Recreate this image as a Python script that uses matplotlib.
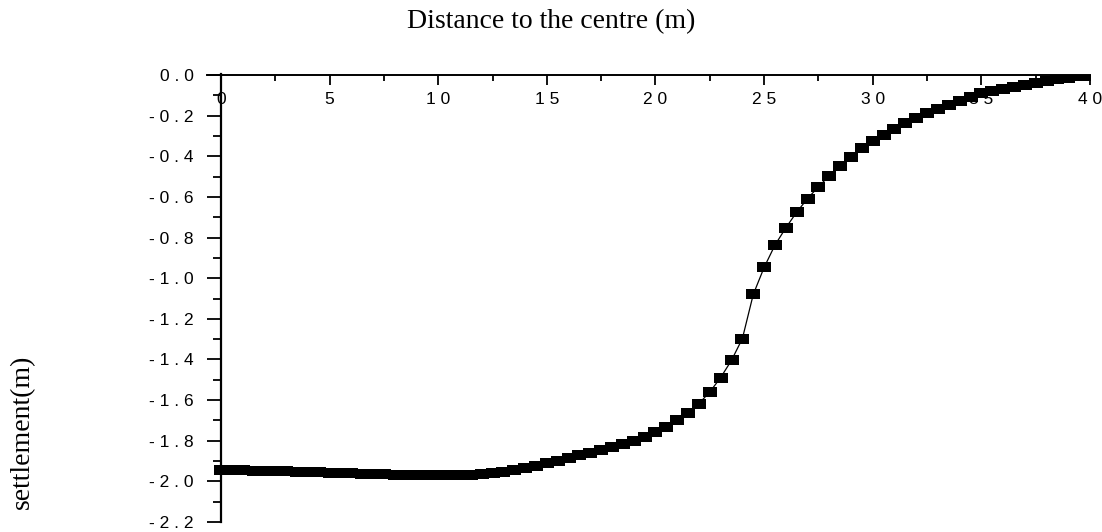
import matplotlib
matplotlib.use("Agg")
import matplotlib.pyplot as plt
from matplotlib.ticker import MultipleLocator

# ---- data ----
distance = [i * 0.5 for i in range(81)]
settlement = [
    -1.944, -1.945, -1.946, -1.947, -1.948, -1.950, -1.951, -1.953, -1.954, -1.956,
    -1.958, -1.959, -1.961, -1.963, -1.965, -1.966, -1.968, -1.969, -1.970, -1.971,
    -1.971, -1.970, -1.969, -1.967, -1.963, -1.958, -1.952, -1.945, -1.935, -1.922,
    -1.910, -1.899, -1.884, -1.872, -1.859, -1.844, -1.831, -1.817, -1.799, -1.783,
    -1.758, -1.732, -1.700, -1.662, -1.617, -1.560, -1.489, -1.404, -1.297, -1.080,
    -0.947, -0.837, -0.752, -0.675, -0.608, -0.550, -0.496, -0.447, -0.406, -0.361,
    -0.325, -0.296, -0.266, -0.238, -0.213, -0.189, -0.167, -0.148, -0.128, -0.107,
    -0.090, -0.078, -0.067, -0.057, -0.047, -0.038, -0.028, -0.020, -0.013, -0.007,
    -0.003,
]
x_ticks = [0, 5, 10, 15, 20, 25, 30, 35, 40]
y_ticks = [0.0, -0.2, -0.4, -0.6, -0.8, -1.0, -1.2, -1.4, -1.6, -1.8, -2.0, -2.2]
x_title = "Distance to the centre (m)"
y_title = "settlement(m)"


def spaced(s):
    return " ".join(list(s))


fig = plt.figure(figsize=(11.02, 5.32), dpi=100)
ax = fig.add_axes([207 / 1102, 10 / 532, (1090 - 207) / 1102, (522 - 75) / 532])

rect = [(-1, -0.69), (1, -0.69), (1, 0.69), (-1, 0.69), (-1, -0.69)]
ax.plot(distance, settlement, color="black", lw=0.9, marker=rect, ms=9.6,
        mfc="black", mec="black", mew=0)

ax.set_xlim(-0.644, 40)
ax.set_ylim(-2.2, 0.0)

for s in ("right", "bottom"):
    ax.spines[s].set_visible(False)
ax.spines["left"].set_position(("data", 0))
ax.spines["left"].set_linewidth(1.6)
ax.spines["top"].set_linewidth(1.4)
ax.spines["left"].set_bounds(-2.2, 0.005)

tick_font = dict(family="Liberation Sans", size=12.5)

ax.xaxis.set_ticks_position("top")
ax.set_xticks(x_ticks)
ax.xaxis.set_minor_locator(MultipleLocator(2.5))
ax.set_xticklabels([spaced(str(t)) for t in x_ticks], **tick_font)
ax.tick_params(axis="x", which="both", direction="in", top=True, bottom=False,
               labeltop=True, labelbottom=False, width=1.3)
ax.tick_params(axis="x", which="major", length=7.2, pad=-12.0)
ax.tick_params(axis="x", which="minor", length=4.3)
for lab in ax.get_xticklabels():
    lab.set_va("top")

ax.set_yticks(y_ticks)
ax.yaxis.set_minor_locator(MultipleLocator(0.1))
ax.set_yticklabels([spaced(f"{t:.1f}") for t in y_ticks], **tick_font)
ax.tick_params(axis="y", which="both", direction="out", left=True, right=False, width=1.3)
ax.tick_params(axis="y", which="major", length=10, pad=9.5)
ax.tick_params(axis="y", which="minor", length=5.8)

fig.text(551.5 / 1102, 1 - 22 / 532, x_title, family="Liberation Serif", size=20,
         ha="center", va="center")
fig.text(22 / 1102, 1 - 432 / 532, y_title, family="Liberation Serif", size=20,
         ha="center", va="center", rotation=90)

fig.savefig("out.png", dpi=100)
